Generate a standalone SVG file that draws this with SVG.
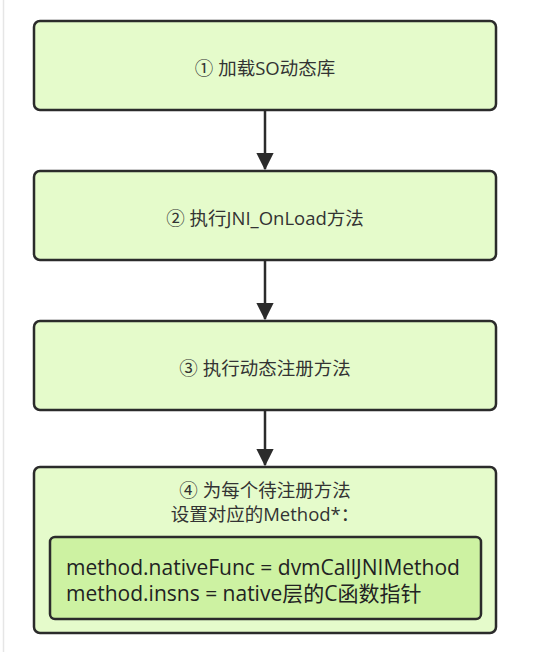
<svg xmlns="http://www.w3.org/2000/svg" width="533" height="652" viewBox="0 0 533 652">
<style>
.box{fill:#e5fbcb;stroke:#2b2b2b;stroke-width:2.5}
.inner{fill:#cdf2a2;stroke:#2b2b2b;stroke-width:2.5}
.t{font-family:"Open Sans","Noto Sans CJK SC",sans-serif;font-size:18.5px;fill:#333;text-anchor:middle}
.c{font-family:"Open Sans","Noto Sans CJK SC",sans-serif;font-size:21px;fill:#222}
.conn{stroke:#2b2b2b;stroke-width:2.5;fill:none}
</style>
<defs>
<marker id="ah" markerWidth="7" markerHeight="7" refX="6.5" refY="3.5" orient="auto" markerUnits="strokeWidth">
<path d="M0,0 L7,3.5 L0,7 z" fill="#2b2b2b"/>
</marker>
</defs>
<rect x="0" y="0" width="533" height="652" fill="#fff"/>
<line x1="3.5" y1="0" x2="3.5" y2="652" stroke="#e6e6e6" stroke-width="1.5"/>
<g id="n1"><rect class="box" x="34" y="21" width="462" height="89" rx="6"/><text class="t" x="265" y="75">① 加载SO动态库</text></g>
<g id="n2"><rect class="box" x="34" y="171" width="462" height="89" rx="6"/><text class="t" x="265" y="225">② 执行JNI_OnLoad方法</text></g>
<g id="n3"><rect class="box" x="34" y="321" width="462" height="89" rx="6"/><text class="t" x="265" y="375">③ 执行动态注册方法</text></g>
<g id="n4"><rect class="box" x="34" y="467" width="462" height="166" rx="6"/>
<text class="t" x="265" y="497">④ 为每个待注册方法</text>
<text class="t" x="265" y="521">设置对应的Method*：</text>
<rect class="inner" x="50" y="537" width="431" height="82" rx="5"/>
<text class="c" x="66" y="575">method.nativeFunc = dvmCallJNIMethod</text>
<text class="c" x="66" y="601">method.insns = native层的C函数指针</text>
</g>
<g id="connectors">
<line class="conn" x1="265" y1="111" x2="265" y2="169" marker-end="url(#ah)"/>
<line class="conn" x1="265" y1="261" x2="265" y2="319" marker-end="url(#ah)"/>
<line class="conn" x1="265" y1="411" x2="265" y2="465" marker-end="url(#ah)"/>
</g>
</svg>
